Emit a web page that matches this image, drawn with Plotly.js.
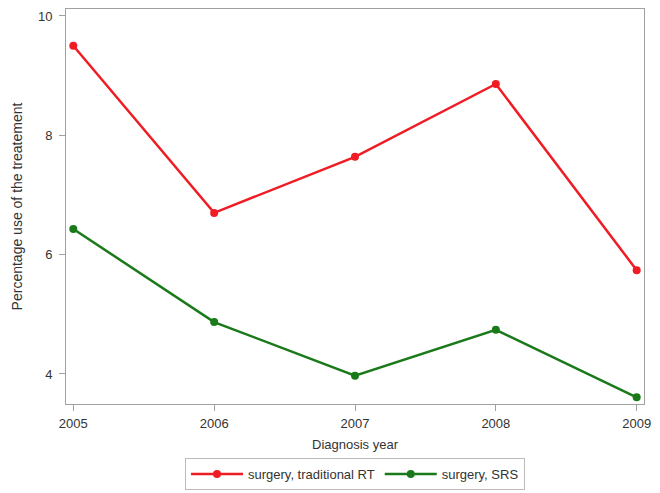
<!DOCTYPE html>
<html>
<head>
<meta charset="utf-8">
<script src="https://cdn.plot.ly/plotly-3.0.1.min.js"></script>
<style>html,body{margin:0;padding:0;background:#fff;}</style>
</head>
<body>
<div id="chart" style="width:660px;height:493px;"></div>
<script>
const years = [2005, 2006, 2007, 2008, 2009];
const traditionalRT = [9.50, 6.70, 7.64, 8.86, 5.74];
const srs = [6.43, 4.87, 3.97, 4.74, 3.61];
const seriesNames = ["surgery, traditional RT", "surgery, SRS"];
const yTicks = [4, 6, 8, 10];

const traces = [
  {x: years, y: traditionalRT, name: seriesNames[0], type: 'scatter', mode: 'lines+markers',
   line: {color: '#f01c24', width: 2.5}, marker: {color: '#f01c24', size: 8}},
  {x: years, y: srs, name: seriesNames[1], type: 'scatter', mode: 'lines+markers',
   line: {color: '#1a7a1a', width: 2.5}, marker: {color: '#1a7a1a', size: 8}}
];

const layout = {
  width: 660, height: 493,
  margin: {l: 66, r: 16, t: 9, b: 89, autoexpand: false},
  paper_bgcolor: '#fff', plot_bgcolor: '#fff',
  font: {family: 'Liberation Sans, Arial, sans-serif', size: 12, color: '#333'},
  xaxis: {
    range: [2004.948, 2009.052], tickvals: years, ticktext: years.map(String),
    showgrid: false, zeroline: false, showline: true, mirror: true, automargin: false,
    linecolor: '#a0a0a0', linewidth: 1, ticks: 'outside', ticklen: 6, tickcolor: '#a0a0a0',
    ticklabelstandoff: 1,
    tickfont: {size: 13, color: '#333'},
    title: {text: 'Diagnosis year', font: {size: 13, color: '#333'}, standoff: 10}
  },
  yaxis: {
    range: [3.497, 10.117], tickvals: yTicks,
    showgrid: false, zeroline: false, showline: true, mirror: true, automargin: false,
    linecolor: '#a0a0a0', linewidth: 1, ticks: 'outside', ticklen: 6, tickcolor: '#a0a0a0',
    ticklabelstandoff: 4,
    tickfont: {size: 13, color: '#333'},
    title: {text: 'Percentage use of the treatement', font: {size: 14, color: '#333'}, standoff: 12}
  },
  showlegend: true,
  legend: {
    orientation: 'h', x: 0.5, xanchor: 'center',
    y: -0.137, yanchor: 'top',
    bordercolor: '#bbb', borderwidth: 1, font: {size: 13, color: '#333'},
    itemwidth: 52
  }
};

Plotly.newPlot('chart', traces, layout, {displayModeBar: false, staticPlot: true});
</script>
</body>
</html>
